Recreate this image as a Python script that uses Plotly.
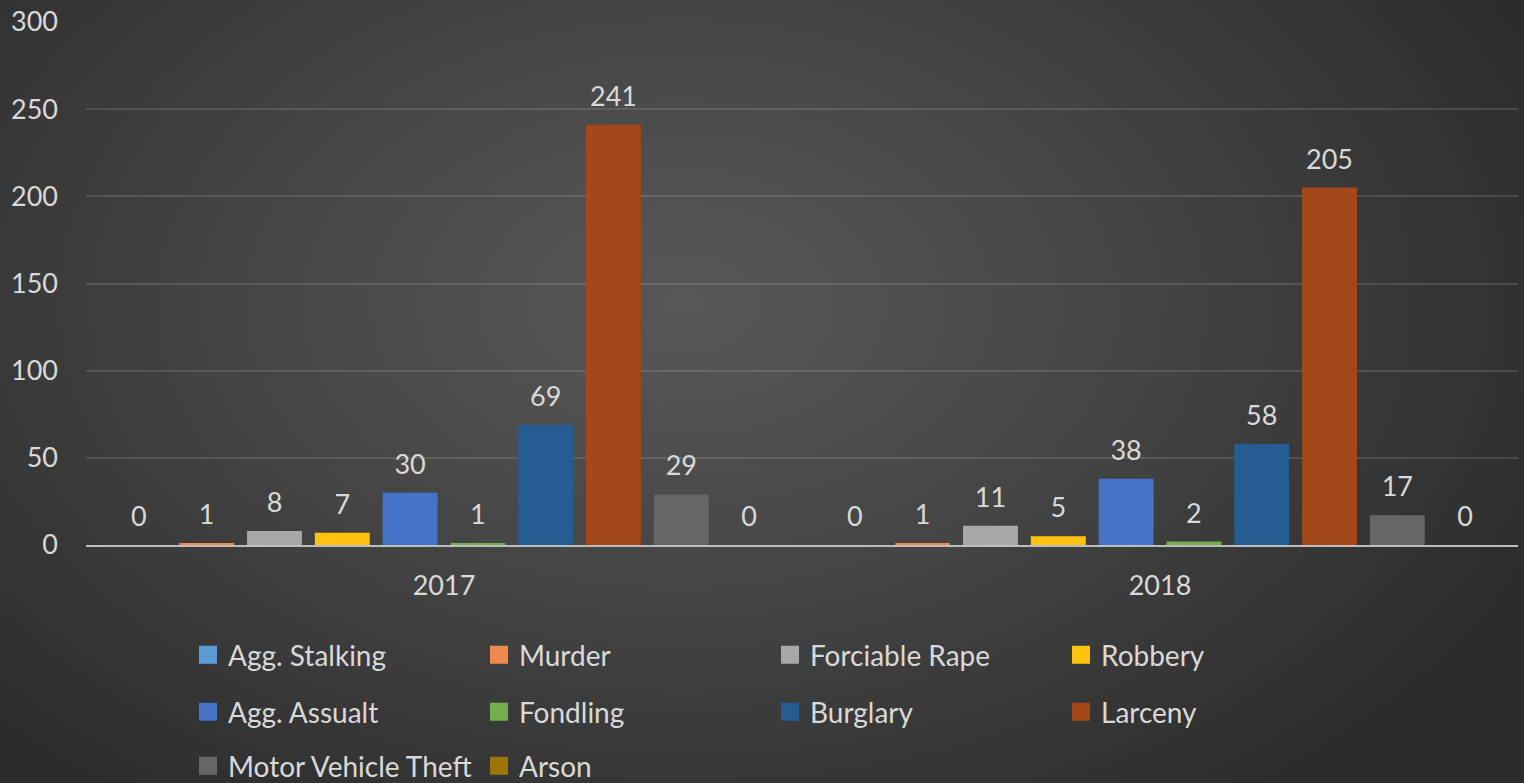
import base64
import struct
import zlib

import numpy as np
import plotly.graph_objects as go

# ---- data -------------------------------------------------------------
years = ["2017", "2018"]
offenses = [
    "Agg. Stalking", "Murder", "Forciable Rape", "Robbery", "Agg. Assualt",
    "Fondling", "Burglary", "Larceny", "Motor Vehicle Theft", "Arson",
]
agg_stalking = [0, 0]
murder = [1, 1]
forciable_rape = [8, 11]
robbery = [7, 5]
agg_assault = [30, 38]
fondling = [1, 2]
burglary = [69, 58]
larceny = [241, 205]
motor_vehicle_theft = [29, 17]
arson = [0, 0]

series = [agg_stalking, murder, forciable_rape, robbery, agg_assault,
          fondling, burglary, larceny, motor_vehicle_theft, arson]
colors = ["#5B9BD5", "#EE8A4E", "#A8A8A8", "#FFC30F", "#4673C8",
          "#74AE4E", "#255C92", "#A3481A", "#666666", "#9C7508"]

y_ticks = [0, 50, 100, 150, 200, 250, 300]

# ---- figure geometry --------------------------------------------------
W, H = 1524, 783
M = dict(l=86, r=6, t=22, b=238, autoexpand=False)
FONT = "Lato"
TXT = "#D9D9D9"


def radial_png(w, h, cx, cy, rx, ry, inner, outer):
    """Small PNG with an elliptical radial gradient, returned as data URI."""
    yy, xx = np.mgrid[0:h, 0:w].astype(float)
    d = np.sqrt(((xx - cx) / rx) ** 2 + ((yy - cy) / ry) ** 2)
    d = np.clip(d, 0, 1)
    v = inner + (outer - inner) * d ** 1.1
    img = np.clip(v, 0, 255).astype(np.uint8)
    raw = b"".join(b"\x00" + np.repeat(row[:, None], 3, axis=1).tobytes() for row in img)

    def chunk(tag, data):
        c = struct.pack(">I", len(data)) + tag + data
        return c + struct.pack(">I", zlib.crc32(tag + data) & 0xFFFFFFFF)

    png = b"\x89PNG\r\n\x1a\n"
    png += chunk(b"IHDR", struct.pack(">IIBBBBB", w, h, 8, 2, 0, 0, 0))
    png += chunk(b"IDAT", zlib.compress(raw, 9))
    png += chunk(b"IEND", b"")
    return "data:image/png;base64," + base64.b64encode(png).decode()


s = 4  # background rendered at quarter resolution and stretched
bg = radial_png(W // s, H // s, 680 / s, 300 / s, 950 / s, 620 / s, 88, 44)

fig = go.Figure()

for name, vals, col in zip(offenses, series, colors):
    fig.add_trace(go.Bar(
        x=years, y=vals, name=name, offsetgroup=name,
        marker=dict(color=col, line=dict(width=0)),
        showlegend=False, hoverinfo="skip",
    ))

# value labels, grouped alongside the bars
for name, vals in zip(offenses, series):
    fig.add_trace(go.Scatter(
        x=years, y=vals, offsetgroup=name, mode="markers+text",
        text=[str(v) for v in vals], textposition="top center",
        textfont=dict(family=FONT, size=27, color=TXT),
        marker=dict(size=18, opacity=0),
        showlegend=False, hoverinfo="skip", cliponaxis=False,
    ))

# legend keys: square swatches, laid out in three rows of four columns
legend_rows = ["legend", "legend2", "legend3"]
for i, (name, col) in enumerate(zip(offenses, colors)):
    fig.add_trace(go.Scatter(
        x=[None], y=[None], mode="markers", name=name,
        marker=dict(symbol="square", size=16, color=col,
                    line=dict(width=2, color=col)),
        legend=legend_rows[i // 4], hoverinfo="skip",
    ))

pw = W - M["l"] - M["r"]
ph = H - M["t"] - M["b"]


def row_legend(y_px):
    return dict(
        orientation="h", xref="container", yref="container",
        x=188 / W, xanchor="left", y=1 - y_px / H, yanchor="middle",
        entrywidth=246, entrywidthmode="pixels",
        font=dict(family=FONT, size=28, color=TXT),
        bgcolor="rgba(0,0,0,0)", itemclick=False, itemdoubleclick=False,
    )


fig.update_layout(
    width=W, height=H, margin=M,
    paper_bgcolor="#3A3A3A", plot_bgcolor="rgba(0,0,0,0)",
    barmode="group", bargap=0.053, bargroupgap=0.19,
    scattermode="group", scattergap=0.053,
    font=dict(family=FONT, size=27, color=TXT),
    showlegend=True,
    legend=row_legend(655),
    legend2=row_legend(712),
    legend3=row_legend(766),
    images=[dict(
        source=bg, xref="paper", yref="paper",
        x=-M["l"] / pw, y=1 + M["t"] / ph,
        sizex=W / pw, sizey=H / ph,
        xanchor="left", yanchor="top", sizing="stretch", layer="below",
    )],
    xaxis=dict(
        type="category", showgrid=False, zeroline=False,
        showline=True, linecolor="#BDBDBD", linewidth=2,
        ticks="", ticklabelstandoff=16,
        tickfont=dict(family=FONT, size=27, color=TXT),
    ),
    yaxis=dict(
        range=[0, 300], tickvals=y_ticks, ticktext=[str(v) for v in y_ticks],
        showgrid=True, gridcolor="rgba(255,255,255,0.12)", gridwidth=2,
        zeroline=False, showline=False, ticks="", ticklabelstandoff=27,
        tickfont=dict(family=FONT, size=27, color=TXT),
    ),
)

fig.write_html("out.html")
